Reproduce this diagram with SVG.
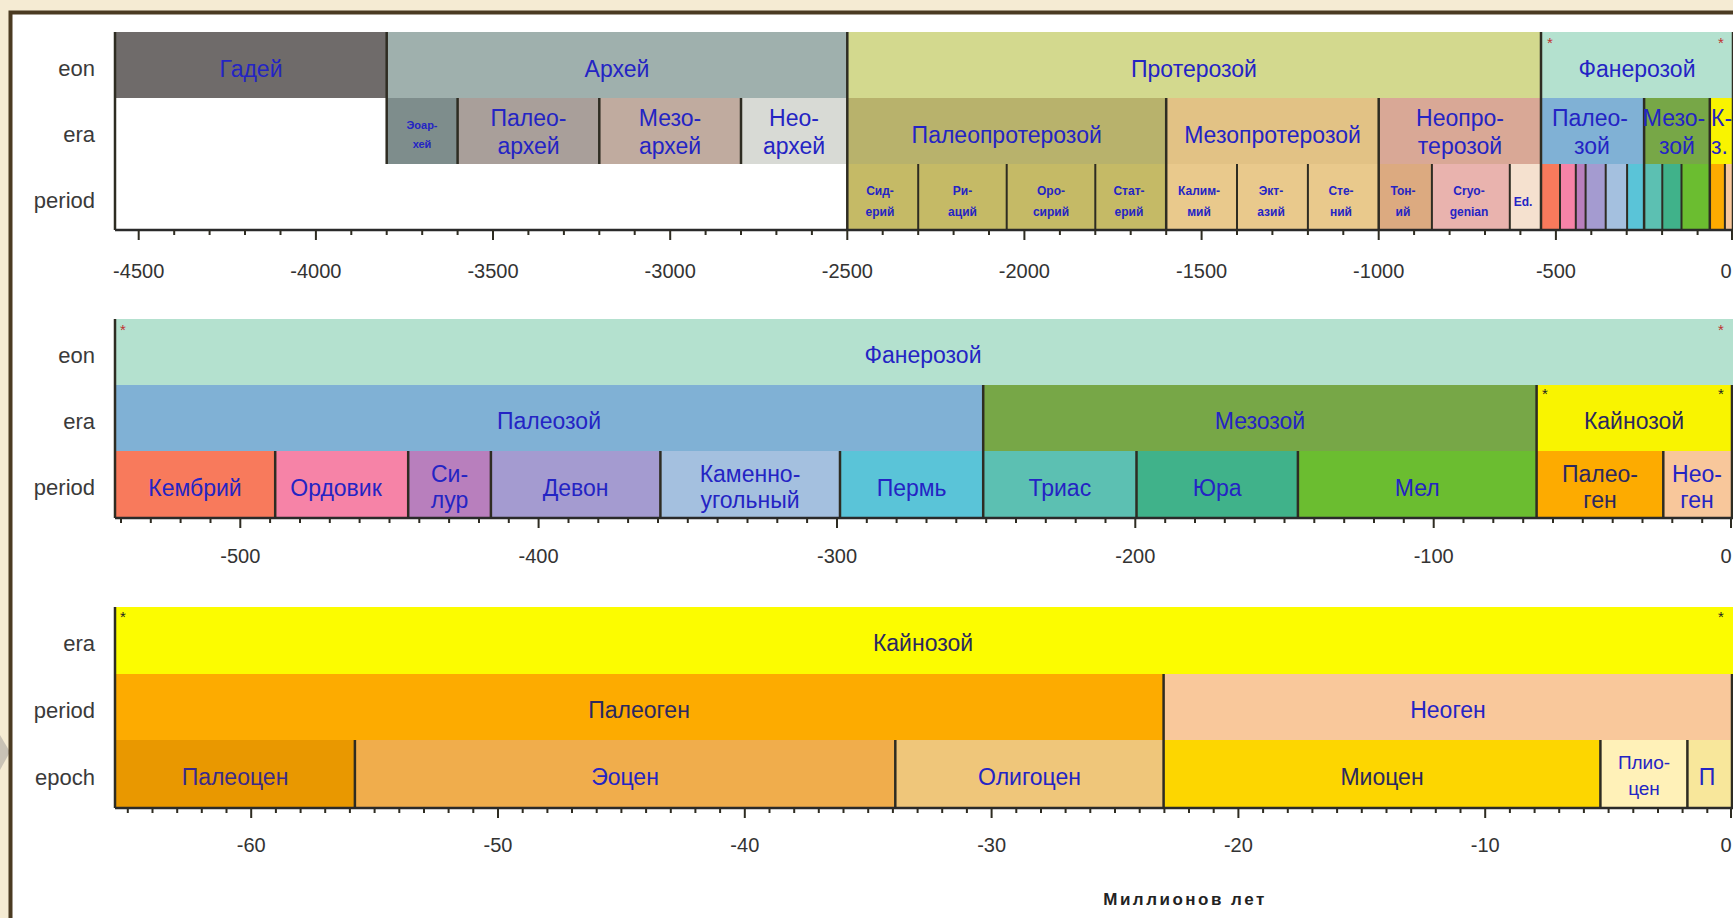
<svg xmlns="http://www.w3.org/2000/svg" width="1733" height="918" viewBox="0 0 1733 918">
<style>
text{font-family:"Liberation Sans",Arial,sans-serif}
.l{font-size:23px;fill:#2424c4;text-anchor:middle}
.dk{fill:#2b2860}
.sm{font-size:12px;font-weight:bold}
.xs{font-size:11px;font-weight:bold}
.row{font-size:22px;fill:#3a3a3a;text-anchor:end}
.tk{font-size:20px;fill:#333;text-anchor:middle}
.bd{stroke:#2e2c22;stroke-width:2.5;fill:none}
.thin{stroke:#2e2c22;stroke-width:2;fill:none}
.ax{stroke:#2a2a2a;stroke-width:2.5;fill:none}
.st{font-size:15px;text-anchor:middle}
</style>
<rect width="1733" height="918" fill="#f5ebd3"/>
<polygon points="0,735 10,752 0,770" fill="#c9c2b5"/>
<rect x="10.5" y="12.5" width="1740" height="920" fill="#ffffff" stroke="#4b3b22" stroke-width="4"/>

<!-- TOP PANEL -->
<g id="panel-top">
<g id="top-eons">
<rect x="115" y="32" width="271.7" height="66" fill="#6f6b6a"/>
<rect x="386.7" y="32" width="460.6" height="66" fill="#9fb0ad"/>
<rect x="847.3" y="32" width="693.7" height="66" fill="#d3d98e"/>
<rect x="1541" y="32" width="192" height="66" fill="#b4e1cf"/>
</g>
<g id="top-eras">
<rect x="386.7" y="98" width="70.9" height="66" fill="#7e8d8c"/>
<rect x="457.6" y="98" width="141.7" height="66" fill="#a99f9a"/>
<rect x="599.3" y="98" width="141.7" height="66" fill="#c0ab9f"/>
<rect x="741" y="98" width="106.3" height="66" fill="#d8dad5"/>
<rect x="847.3" y="98" width="318.9" height="66" fill="#b8b26c"/>
<rect x="1166.2" y="98" width="212.5" height="66" fill="#e2c285"/>
<rect x="1378.7" y="98" width="162.3" height="66" fill="#d9a896"/>
<rect x="1541" y="98" width="103.1" height="66" fill="#80b1d5"/>
<rect x="1644.1" y="98" width="65.7" height="66" fill="#77a747"/>
<rect x="1709.8" y="98" width="23.2" height="66" fill="#f9f400"/>
</g>
<g id="top-periods">
<rect x="847.3" y="164" width="318.9" height="66" fill="#c5ba66"/>
<rect x="1166.2" y="164" width="212.5" height="66" fill="#e9c98c"/>
<rect x="1378.7" y="164" width="53.2" height="66" fill="#dcaa80"/>
<rect x="1431.9" y="164" width="77.9" height="66" fill="#e9b3ae"/>
<rect x="1509.8" y="164" width="31.2" height="66" fill="#f5e1cf"/>
<rect x="1541" y="164" width="19" height="66" fill="#f87a5c"/>
<rect x="1560" y="164" width="15.8" height="66" fill="#f683a7"/>
<rect x="1575.8" y="164" width="9.8" height="66" fill="#b87fbd"/>
<rect x="1585.6" y="164" width="20.1" height="66" fill="#a49bd0"/>
<rect x="1605.7" y="164" width="21.4" height="66" fill="#a4c0df"/>
<rect x="1627.1" y="164" width="17" height="66" fill="#5ac4d8"/>
<rect x="1644.1" y="164" width="18.2" height="66" fill="#5cc0b2"/>
<rect x="1662.3" y="164" width="19.2" height="66" fill="#40b28a"/>
<rect x="1681.5" y="164" width="28.3" height="66" fill="#6bbd30"/>
<rect x="1709.8" y="164" width="15.1" height="66" fill="#fdab00"/>
<rect x="1724.9" y="164" width="8.1" height="66" fill="#f8c79b"/>
</g>
<g id="top-lines">
<path class="bd" d="M115,32V230 M386.7,32V164 M847.3,32V230 M1541,32V230 M1733,32V230"/>
<path class="bd" d="M457.6,98V164 M599.3,98V164 M741,98V164 M1166.2,98V230 M1378.7,98V230 M1644.1,98V230 M1709.8,98V230"/>
<path class="thin" d="M918.2,164V230 M1006.7,164V230 M1095.3,164V230 M1237,164V230 M1307.9,164V230 M1431.9,164V230 M1509.8,164V230 M1560,164V230 M1575.8,164V230 M1585.6,164V230 M1605.7,164V230 M1627.1,164V230 M1662.3,164V230 M1681.5,164V230 M1724.9,164V230"/>
<path class="ax" d="M115,230H1733"/>
<path class="thin" d="M1697.6,230v5 M1662.1,230v5 M1626.7,230v5 M1591.3,230v5 M1520.4,230v5 M1485,230v5 M1449.6,230v5 M1414.1,230v5 M1343.3,230v5 M1307.9,230v5 M1272.4,230v5 M1237,230v5 M1166.2,230v5 M1130.7,230v5 M1095.3,230v5 M1059.9,230v5 M989,230v5 M953.6,230v5 M918.2,230v5 M882.7,230v5 M811.9,230v5 M776.4,230v5 M741,230v5 M705.6,230v5 M634.7,230v5 M599.3,230v5 M563.9,230v5 M528.4,230v5 M457.6,230v5 M422.2,230v5 M386.7,230v5 M351.3,230v5 M280.5,230v5 M245,230v5 M209.6,230v5 M174.2,230v5"/>
<path class="thin" d="M1732,230v10 M1555.9,230v10 M1378.7,230v10 M1201.6,230v10 M1024.4,230v10 M847.3,230v10 M670.2,230v10 M493,230v10 M315.9,230v10 M138.7,230v10"/>
</g>
<g id="top-labels">
<text class="row" x="95" y="76">eon</text>
<text class="row" x="95" y="142">era</text>
<text class="row" x="95" y="208">period</text>
<text class="l" x="251" y="77">Гадей</text>
<text class="l" x="617" y="77">Архей</text>
<text class="l" x="1194" y="77">Протерозой</text>
<text class="l" x="1637" y="77">Фанерозой</text>
<text class="l xs" x="422" y="129">Эоар-</text>
<text class="l xs" x="422" y="148">хей</text>
<text class="l" x="528.5" y="126">Палео-</text>
<text class="l" x="528.5" y="154">архей</text>
<text class="l" x="670" y="126">Мезо-</text>
<text class="l" x="670" y="154">архей</text>
<text class="l" x="794" y="126">Нео-</text>
<text class="l" x="794" y="154">архей</text>
<text class="l" x="1006.7" y="143">Палеопротерозой</text>
<text class="l" x="1272.5" y="143">Мезопротерозой</text>
<text class="l" x="1460" y="126">Неопро-</text>
<text class="l" x="1460" y="154">терозой</text>
<text class="l" x="1590" y="126">Палео-</text>
<text class="l" x="1592" y="154">зой</text>
<text class="l" x="1674" y="126">Мезо-</text>
<text class="l" x="1677" y="154">зой</text>
<text class="l" x="1711" y="126" style="text-anchor:start">К-</text>
<text class="l" x="1711" y="154" style="text-anchor:start">з.</text>
<text class="l sm" x="880" y="195">Сид-</text>
<text class="l sm" x="880" y="216">ерий</text>
<text class="l sm" x="962.5" y="195">Ри-</text>
<text class="l sm" x="962.5" y="216">аций</text>
<text class="l sm" x="1051" y="195">Оро-</text>
<text class="l sm" x="1051" y="216">сирий</text>
<text class="l sm" x="1129" y="195">Стат-</text>
<text class="l sm" x="1129" y="216">ерий</text>
<text class="l sm" x="1199" y="195">Калим-</text>
<text class="l sm" x="1199" y="216">мий</text>
<text class="l sm" x="1271" y="195">Экт-</text>
<text class="l sm" x="1271" y="216">азий</text>
<text class="l sm" x="1341" y="195">Сте-</text>
<text class="l sm" x="1341" y="216">ний</text>
<text class="l sm" x="1403" y="195">Тон-</text>
<text class="l sm" x="1403" y="216">ий</text>
<text class="l sm" x="1469" y="195">Cryo-</text>
<text class="l sm" x="1469" y="216">genian</text>
<text class="l sm" x="1523" y="206">Ed.</text>
<text class="st" x="1550" y="48" fill="#c03030">*</text>
<text class="st" x="1721" y="48" fill="#c03030">*</text>
<text class="tk" x="138.7" y="278">-4500</text>
<text class="tk" x="315.9" y="278">-4000</text>
<text class="tk" x="493" y="278">-3500</text>
<text class="tk" x="670.2" y="278">-3000</text>
<text class="tk" x="847.3" y="278">-2500</text>
<text class="tk" x="1024.4" y="278">-2000</text>
<text class="tk" x="1201.6" y="278">-1500</text>
<text class="tk" x="1378.7" y="278">-1000</text>
<text class="tk" x="1555.9" y="278">-500</text>
<text class="tk" x="1726" y="278">0</text>
</g>
</g>

<!-- MIDDLE PANEL -->
<g id="panel-middle">
<g id="mid-boxes">
<rect x="115" y="319" width="1618" height="66" fill="#b4e1cf"/>
<rect x="115" y="385" width="868.2" height="66" fill="#80b1d5"/>
<rect x="983.2" y="385" width="553.4" height="66" fill="#77a747"/>
<rect x="1536.6" y="385" width="196.4" height="66" fill="#f9f400"/>
<rect x="115" y="451" width="160.2" height="67" fill="#f87a5c"/>
<rect x="275.2" y="451" width="133" height="67" fill="#f683a7"/>
<rect x="408.2" y="451" width="82.7" height="67" fill="#b87fbd"/>
<rect x="490.9" y="451" width="169.5" height="67" fill="#a49bd0"/>
<rect x="660.4" y="451" width="179.6" height="67" fill="#a4c0df"/>
<rect x="840" y="451" width="143.2" height="67" fill="#5ac4d8"/>
<rect x="983.2" y="451" width="153.3" height="67" fill="#5cc0b2"/>
<rect x="1136.5" y="451" width="161.4" height="67" fill="#40b28a"/>
<rect x="1297.9" y="451" width="238.7" height="67" fill="#6bbd30"/>
<rect x="1536.6" y="451" width="126.7" height="67" fill="#fdab00"/>
<rect x="1663.3" y="451" width="69.7" height="67" fill="#f8c79b"/>
</g>
<g id="mid-lines">
<path class="bd" d="M115,319V518 M983.2,385V518 M1536.6,385V518 M1732,385V518"/>
<path class="bd" d="M275.2,451V518 M408.2,451V518 M490.9,451V518 M660.4,451V518 M840,451V518 M1136.5,451V518 M1297.9,451V518 M1663.3,451V518"/>
<path class="ax" d="M115,518H1733"/>
<path class="thin" d="M1702.2,518v5 M1672.3,518v5 M1642.5,518v5 M1612.7,518v5 M1582.8,518v5 M1553,518v5 M1523.2,518v5 M1493.3,518v5 M1463.5,518v5 M1403.8,518v5 M1374,518v5 M1344.2,518v5 M1314.3,518v5 M1284.5,518v5 M1254.7,518v5 M1224.8,518v5 M1195,518v5 M1165.2,518v5 M1105.5,518v5 M1075.7,518v5 M1045.8,518v5 M1016,518v5 M986.2,518v5 M956.3,518v5 M926.5,518v5 M896.6,518v5 M866.8,518v5 M807.1,518v5 M777.3,518v5 M747.5,518v5 M717.6,518v5 M687.8,518v5 M658,518v5 M628.1,518v5 M598.3,518v5 M568.5,518v5 M508.8,518v5 M479,518v5 M449.1,518v5 M419.3,518v5 M389.5,518v5 M359.6,518v5 M329.8,518v5 M300,518v5 M270.1,518v5 M210.5,518v5 M180.6,518v5 M150.8,518v5 M121,518v5"/>
<path class="thin" d="M1731,518v10 M1433.7,518v10 M1135.3,518v10 M837,518v10 M538.6,518v10 M240.3,518v10"/>
</g>
<g id="mid-labels">
<text class="row" x="95" y="363">eon</text>
<text class="row" x="95" y="429">era</text>
<text class="row" x="95" y="495">period</text>
<text class="l" x="923" y="363">Фанерозой</text>
<text class="l" x="549" y="429">Палеозой</text>
<text class="l" x="1260" y="429">Мезозой</text>
<text class="l dk" x="1634" y="429">Кайнозой</text>
<text class="l" x="195" y="496">Кембрий</text>
<text class="l" x="336" y="496">Ордовик</text>
<text class="l" x="449.5" y="482">Си-</text>
<text class="l" x="449.5" y="508">лур</text>
<text class="l" x="575.6" y="496">Девон</text>
<text class="l" x="750" y="482">Каменно-</text>
<text class="l" x="750" y="508">угольный</text>
<text class="l" x="911.6" y="496">Пермь</text>
<text class="l" x="1059.8" y="496">Триас</text>
<text class="l" x="1217.2" y="496">Юра</text>
<text class="l" x="1417.2" y="496">Мел</text>
<text class="l dk" x="1600" y="482">Палео-</text>
<text class="l dk" x="1600" y="508">ген</text>
<text class="l" x="1697" y="482">Нео-</text>
<text class="l" x="1697" y="508">ген</text>
<text class="st" x="123" y="335" fill="#c03030">*</text>
<text class="st" x="1721" y="335" fill="#c03030">*</text>
<text class="st" x="1545" y="399" fill="#222">*</text>
<text class="st" x="1721" y="399" fill="#222">*</text>
<text class="tk" x="240.3" y="563">-500</text>
<text class="tk" x="538.6" y="563">-400</text>
<text class="tk" x="837" y="563">-300</text>
<text class="tk" x="1135.3" y="563">-200</text>
<text class="tk" x="1433.7" y="563">-100</text>
<text class="tk" x="1726" y="563">0</text>
</g>
</g>

<!-- BOTTOM PANEL -->
<g id="panel-bottom">
<g id="bot-boxes">
<rect x="115" y="607" width="1618" height="67" fill="#fcfc00"/>
<rect x="115" y="674" width="1048.6" height="66" fill="#fdab00"/>
<rect x="1163.6" y="674" width="569.4" height="66" fill="#f9c89b"/>
<rect x="115" y="740" width="239.9" height="68" fill="#e99800"/>
<rect x="354.9" y="740" width="540.4" height="68" fill="#f0ad4c"/>
<rect x="895.3" y="740" width="268.3" height="68" fill="#efc67a"/>
<rect x="1163.6" y="740" width="436.8" height="68" fill="#fdd600"/>
<rect x="1600.4" y="740" width="87" height="68" fill="#fff1b8"/>
<rect x="1687.4" y="740" width="45.6" height="68" fill="#f8e79b"/>
</g>
<g id="bot-lines">
<path class="bd" d="M115,607V808 M1163.6,674V808 M1732,674V808"/>
<path class="bd" d="M354.9,740V808 M895.3,740V808 M1600.4,740V808 M1687.4,740V808"/>
<path class="ax" d="M115,808H1733"/>
<path class="thin" d="M1707.3,808v5 M1682.6,808v5 M1658,808v5 M1633.3,808v5 M1608.6,808v5 M1583.9,808v5 M1559.2,808v5 M1534.6,808v5 M1509.9,808v5 M1460.5,808v5 M1435.8,808v5 M1411.2,808v5 M1386.5,808v5 M1361.8,808v5 M1337.1,808v5 M1312.4,808v5 M1287.8,808v5 M1263.1,808v5 M1213.7,808v5 M1189,808v5 M1164.4,808v5 M1139.7,808v5 M1115,808v5 M1090.3,808v5 M1065.6,808v5 M1041,808v5 M1016.3,808v5 M966.9,808v5 M942.2,808v5 M917.6,808v5 M892.9,808v5 M868.2,808v5 M843.5,808v5 M818.8,808v5 M794.2,808v5 M769.5,808v5 M720.1,808v5 M695.4,808v5 M670.8,808v5 M646.1,808v5 M621.4,808v5 M596.7,808v5 M572,808v5 M547.4,808v5 M522.7,808v5 M473.3,808v5 M448.6,808v5 M424,808v5 M399.3,808v5 M374.6,808v5 M349.9,808v5 M325.2,808v5 M300.6,808v5 M275.9,808v5 M226.5,808v5 M201.8,808v5 M177.2,808v5 M152.5,808v5 M127.8,808v5"/>
<path class="thin" d="M1731,808v10 M1485.2,808v10 M1238.4,808v10 M991.6,808v10 M744.8,808v10 M498,808v10 M251.2,808v10"/>
</g>
<g id="bot-labels">
<text class="row" x="95" y="651">era</text>
<text class="row" x="95" y="718">period</text>
<text class="row" x="95" y="785">epoch</text>
<text class="l dk" x="923" y="651">Кайнозой</text>
<text class="l dk" x="639" y="718">Палеоген</text>
<text class="l" x="1448" y="718">Неоген</text>
<text class="l" x="235" y="785" style="fill:#3b2a8a">Палеоцен</text>
<text class="l" x="625" y="785">Эоцен</text>
<text class="l" x="1029.5" y="785">Олигоцен</text>
<text class="l dk" x="1382" y="785">Миоцен</text>
<text class="l" x="1644" y="769" style="font-size:19px">Плио-</text>
<text class="l" x="1644" y="795" style="font-size:19px">цен</text>
<text class="l" x="1707" y="785">П</text>
<text class="st" x="123" y="622" fill="#222">*</text>
<text class="st" x="1721" y="622" fill="#222">*</text>
<text class="tk" x="251.2" y="852">-60</text>
<text class="tk" x="498" y="852">-50</text>
<text class="tk" x="744.8" y="852">-40</text>
<text class="tk" x="991.6" y="852">-30</text>
<text class="tk" x="1238.4" y="852">-20</text>
<text class="tk" x="1485.2" y="852">-10</text>
<text class="tk" x="1726" y="852">0</text>
<text x="1185" y="905" style="font-size:17px;font-weight:bold;fill:#222;text-anchor:middle;letter-spacing:2.5px">Миллионов лет</text>
</g>
</g>
</svg>
